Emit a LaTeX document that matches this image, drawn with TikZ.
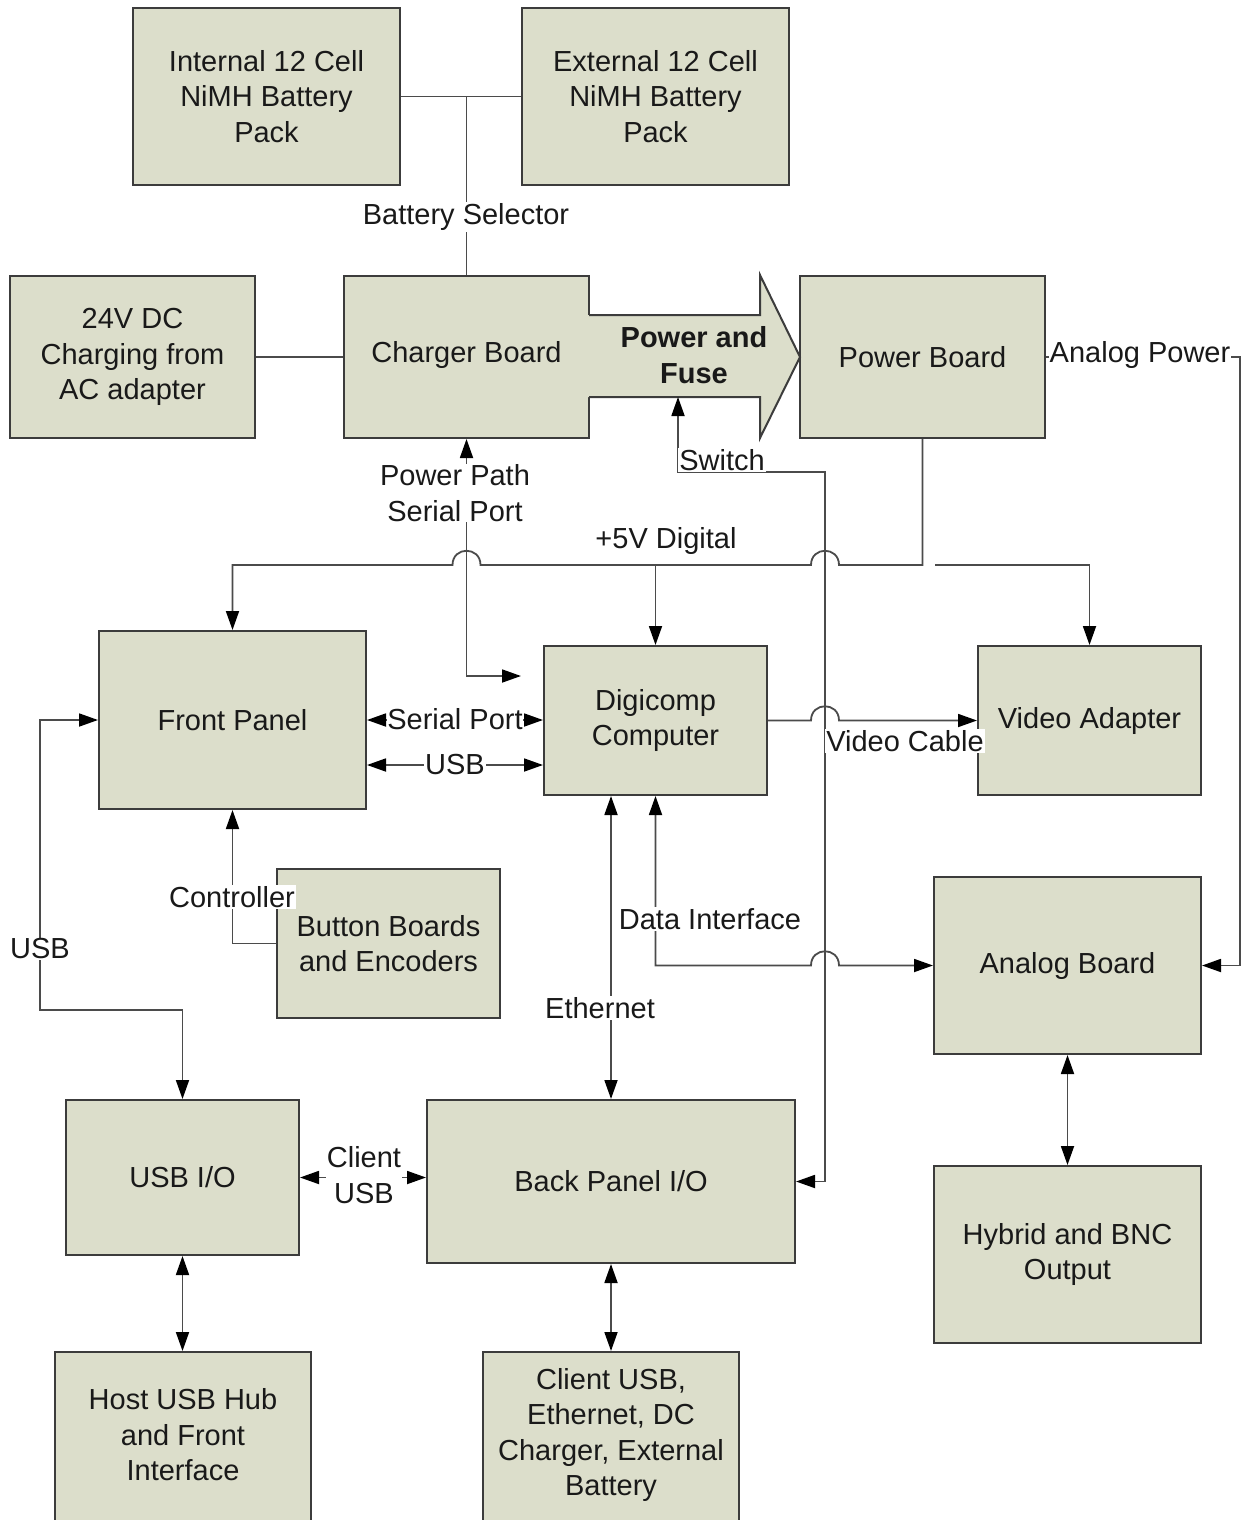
\documentclass[tikz,border=0pt]{standalone}
\usepackage{fontspec}
\setmainfont{Liberation Sans}
\usetikzlibrary{arrows.meta}
\definecolor{boxfill}{RGB}{220,222,203}
\definecolor{boxline}{RGB}{60,60,60}
\definecolor{wirecol}{RGB}{75,75,75}
\definecolor{ink}{RGB}{25,25,25}

\begin{document}
\begin{tikzpicture}[x=1pt,y=-1pt,
  >={Triangle[length=19pt,width=13pt,color=black]},
  every node/.append style={font=\fontsize{29}{35.5}\selectfont, text=ink},
  box/.style={draw=boxline, fill=boxfill, line width=2pt, align=center, inner sep=0pt},
  lbl/.style={fill=white, inner sep=1pt, align=center},
  wire/.style={draw=wirecol, line width=1.8pt},
  % line hopping over a crossing wire, running left to right / right to left
  jr/.style 2 args={insert path={-- ({#1-14},#2) .. controls ({#1-14},{#2-19}) and ({#1+14},{#2-19}) .. ({#1+14},#2)}},
  jl/.style 2 args={insert path={-- ({#1+14},#2) .. controls ({#1+14},{#2-19}) and ({#1-14},{#2-19}) .. ({#1-14},#2)}}
]
\fill[white] (0,0) rectangle (1243,1520);
\useasboundingbox (0,0) rectangle (1243,1520);

% ---------- blocks ----------
\node[box, minimum width=267pt, minimum height=177pt] (intb) at (266.5,96.5) {Internal 12 Cell\\NiMH Battery\\Pack};
\node[box, minimum width=267pt, minimum height=177pt] (extb) at (655.5,96.5) {External 12 Cell\\NiMH Battery\\Pack};
\node[box, minimum width=245pt, minimum height=162pt] (dc24) at (132.5,357) {24V DC\\Charging from\\AC adapter};
\node[box, minimum width=245pt, minimum height=162pt] (chg) at (466.5,357) {};
\node[box, minimum width=245pt, minimum height=162pt] (pwr) at (922.5,357) {Power Board};

% power and fuse arrow, joined to the charger board
\fill[boxfill] (587,315) -- (760,315) -- (760,275) -- (800,357) -- (760,438) -- (760,397) -- (587,397) -- cycle;
\draw[boxline, line width=2pt, line join=miter] (589,315) -- (760,315) -- (760,275) -- (800,357) -- (760,438) -- (760,397) -- (589,397);
\node (chgtxt) at (466.5,355) {Charger Board};
\node[font=\bfseries\fontsize{29}{35.5}\selectfont, align=center] (pftxt) at (694,355) {Power and\\Fuse};
\coordinate (pfsw) at (678,397);

\node[box, minimum width=267pt, minimum height=178pt] (fp) at (232.5,720) {Front Panel};
\node[box, minimum width=223pt, minimum height=149pt] (dig) at (655.5,720.5) {Digicomp\\Computer};
\node[box, minimum width=223pt, minimum height=149pt] (va) at (1089.5,720.5) {Video Adapter};
\node[box, minimum width=223pt, minimum height=149pt] (bb) at (388.5,943.5) {Button Boards\\and Encoders};
\node[box, minimum width=267pt, minimum height=177pt] (ab) at (1067.5,965.5) {Analog Board};
\node[box, minimum width=267pt, minimum height=177pt] (hyb) at (1067.5,1254.5) {Hybrid and BNC\\Output};
\node[box, minimum width=233pt, minimum height=155pt] (usbio) at (182.5,1177.5) {USB I/O};
\node[box, minimum width=368pt, minimum height=163pt] (bp) at (611,1181.5) {Back Panel I/O};
\node[box, minimum width=256pt, minimum height=190pt] (host) at (183,1447) {};
\node[align=center] (hosttxt) at (183,1435) {Host USB Hub\\and Front\\Interface};
\node[box, minimum width=256pt, minimum height=190pt] (cli) at (611,1447) {};
\node[align=center] (clitxt) at (611,1435) {Client USB,\\Ethernet, DC\\Charger, External\\Battery};

% ---------- connectors ----------
\coordinate (bsel) at (466.5,96.5);
\coordinate (ppend) at (521,676);
\draw[wire] (intb.east) -- (extb.west);
\draw[wire] (bsel) -- (chg.north);
\draw[wire] (dc24.east) -- (chg.west);
\draw[wire,->] (pwr.east) -- (1240,357) -- (1240,965.5) -- (ab.east);
\draw[wire,<->] (chg.south) -- (466.5,676) -- (ppend);
\draw[wire,->] (pwr.south) -- (922.5,565) [jl={825}{565}] [jl={466.5}{565}] -- (232.5,565) -- (fp.north);
\draw[wire,->] (655.5,565) -- (dig.north);
\draw[wire,->] (935,565) -- (1089.5,565) -- (va.north);
\draw[wire,<->] (pfsw) -- (678,472) -- (825,472) -- (825,1181.5) -- (bp.east);
\draw[wire,<->] (fp.east) -- (fp.east -| dig.west);
\draw[wire,<->] ([yshift=-45pt]fp.east) -- ([yshift=-45pt]fp.east -| dig.west);
\draw[wire,->] (dig.east) [jr={825}{720.5}] -- (va.west);
\draw[wire,<->] (bp.north |- dig.south) -- (bp.north);
\draw[wire,<->] (dig.south) -- (655.5,965.5) [jr={825}{965.5}] -- (ab.west);
\draw[wire,->] (bb.west) -- (232.5,943.5) -- (fp.south);
\draw[wire,<->] (fp.west) -- (40,720) -- (40,1010) -- (182.5,1010) -- (usbio.north);
\draw[wire,<->] (usbio.east) -- (usbio.east -| bp.west);
\draw[wire,<->] (usbio.south) -- (usbio.south |- host.north);
\draw[wire,<->] (ab.south) -- (hyb.north);
\draw[wire,<->] (bp.south) -- (cli.north);

% ---------- connector labels ----------
\node[lbl] (lbsel) at (466,217) {Battery Selector};
\node[lbl] (lap) at (1140,355) {Analog Power};
\node[lbl] (lpp) at (455,493) {Power Path\\Serial Port};
\node (l5v) at (666,541) {+5V Digital};
\node[lbl] (lsw) at (722,460) {Switch};
\node[lbl, inner sep=0pt] (lsp) at (455,719) {Serial Port};
\node[lbl] (lusb) at (455,765) {USB};
\node[lbl] (lvc) at (905,741) {Video Cable};
\node[lbl] (lctl) at (232,897) {Controller};
\node[lbl] (ldi) at (710,919) {Data Interface};
\node[lbl] (leth) at (600,1008) {Ethernet};
\node[lbl] (lusbl) at (40,949) {USB};
\node[lbl] (lcu) at (364,1175) {Client\\USB};
\end{tikzpicture}
\end{document}
